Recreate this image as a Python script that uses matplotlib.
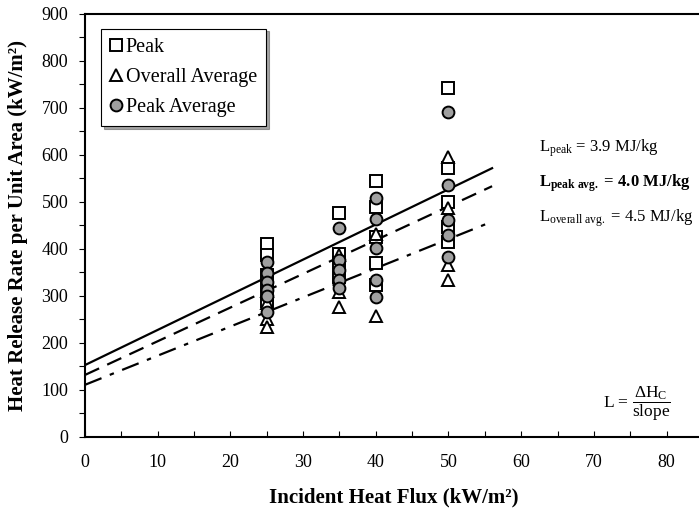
import numpy as np
import matplotlib
matplotlib.use('Agg')
import matplotlib.pyplot as plt
from matplotlib.ticker import MultipleLocator

plt.rcParams['font.family'] = ['Liberation Serif', 'DejaVu Serif']
plt.rcParams['mathtext.fontset'] = 'custom'
plt.rcParams['mathtext.rm'] = 'Liberation Serif'
plt.rcParams['mathtext.it'] = 'Liberation Serif'
plt.rcParams['mathtext.bf'] = 'Liberation Serif:bold'

# incident flux levels (kW/m2) and measured HRR values (kW/m2)
flux_peak = [25]*5 + [35]*4 + [40]*5 + [50]*5
hrr_peak = [411, 387, 345, 320, 290,
            477, 390, 370, 340,
            545, 490, 425, 370, 323,
            742, 573, 500, 447, 415]

flux_overall = [25]*4 + [35]*3 + [40]*2 + [50]*4
hrr_overall = [310, 285, 250, 235,
               387, 308, 277,
               432, 258,
               596, 487, 366, 333]

flux_peakavg = [25]*6 + [35]*5 + [40]*5 + [50]*5
hrr_peakavg = [373, 348, 330, 313, 300, 265,
               444, 377, 355, 334, 318,
               508, 463, 403, 333, 297,
               691, 536, 462, 430, 383]

# linear fits: intercept, slope, fitted flux range
fit_intercept = [153, 132, 111]
fit_slope = [7.48, 7.17, 6.2]
fit_range = [0, 56]
fit_style = ['-', (0, (7, 4)), (0, (8, 4, 2, 4))]

fig = plt.figure(figsize=(6.99, 5.08), dpi=100)
ax = fig.add_axes([0.1216, 0.1398, 0.884, 0.8327])

xf = np.array(fit_range, dtype=float)
for b, m, ls in zip(fit_intercept, fit_slope, fit_style):
    ax.plot(xf, b + m*xf, color='k', linestyle=ls, linewidth=1.6)

ax.plot(flux_peak, hrr_peak, linestyle='none', marker='s', markersize=9,
        markerfacecolor='white', markeredgecolor='k', markeredgewidth=1.4,
        label='Peak')
ax.plot(flux_overall, hrr_overall, linestyle='none', marker='^', markersize=9,
        markerfacecolor='white', markeredgecolor='k', markeredgewidth=1.4,
        label='Overall Average')
ax.plot(flux_peakavg, hrr_peakavg, linestyle='none', marker='o', markersize=8.5,
        markerfacecolor='#a0a0a0', markeredgecolor='k', markeredgewidth=1.4,
        label='Peak Average')

ax.set_xlim(0, 85)
ax.set_ylim(0, 900)
ax.xaxis.set_major_locator(MultipleLocator(10))
ax.xaxis.set_minor_locator(MultipleLocator(5))
ax.yaxis.set_major_locator(MultipleLocator(100))
ax.yaxis.set_minor_locator(MultipleLocator(50))
ax.tick_params(axis='x', which='both', direction='in', length=4, width=0.8,
               labelsize=13, pad=12, top=False)
ax.tick_params(axis='y', which='both', direction='out', length=4, width=0.8,
               labelsize=13, pad=8, right=False)
for s in ax.spines.values():
    s.set_linewidth(1.5)

ax.set_xlabel('Incident Heat Flux (kW/m²)', fontsize=15, fontweight='bold',
              labelpad=12)
ax.set_ylabel('Heat Release Rate per Unit Area (kW/m²)', fontsize=15,
              fontweight='bold', labelpad=10)

leg = ax.legend(loc='upper left', bbox_to_anchor=(0.02, 0.975), fontsize=14.5,
                frameon=True, fancybox=False, shadow=True, handlelength=0.6,
                handletextpad=0.15, labelspacing=0.55, borderpad=0.45,
                borderaxespad=0.2)
leg.get_frame().set_edgecolor('k')
leg.get_frame().set_linewidth(0.8)

ax.text(0.735, 0.682, r'L$_{\rm peak}$ = 3.9 MJ/kg', transform=ax.transAxes,
        fontsize=12, va='center')
ax.text(0.735, 0.600, r'$\mathbf{L}_{\mathbf{peak\ avg.}}$ = 4.0 MJ/kg',
        transform=ax.transAxes, fontsize=12, fontweight='bold', va='center')
ax.text(0.735, 0.517, r'L$_{\rm overall\ avg.}$ = 4.5 MJ/kg',
        transform=ax.transAxes, fontsize=12, va='center')
ax.text(0.838, 0.078, r'L = $\dfrac{\Delta\mathrm{H_C}}{\mathrm{slope}}$',
        transform=ax.transAxes, fontsize=12.5, va='center')

fig.savefig('out.png', dpi=100)
